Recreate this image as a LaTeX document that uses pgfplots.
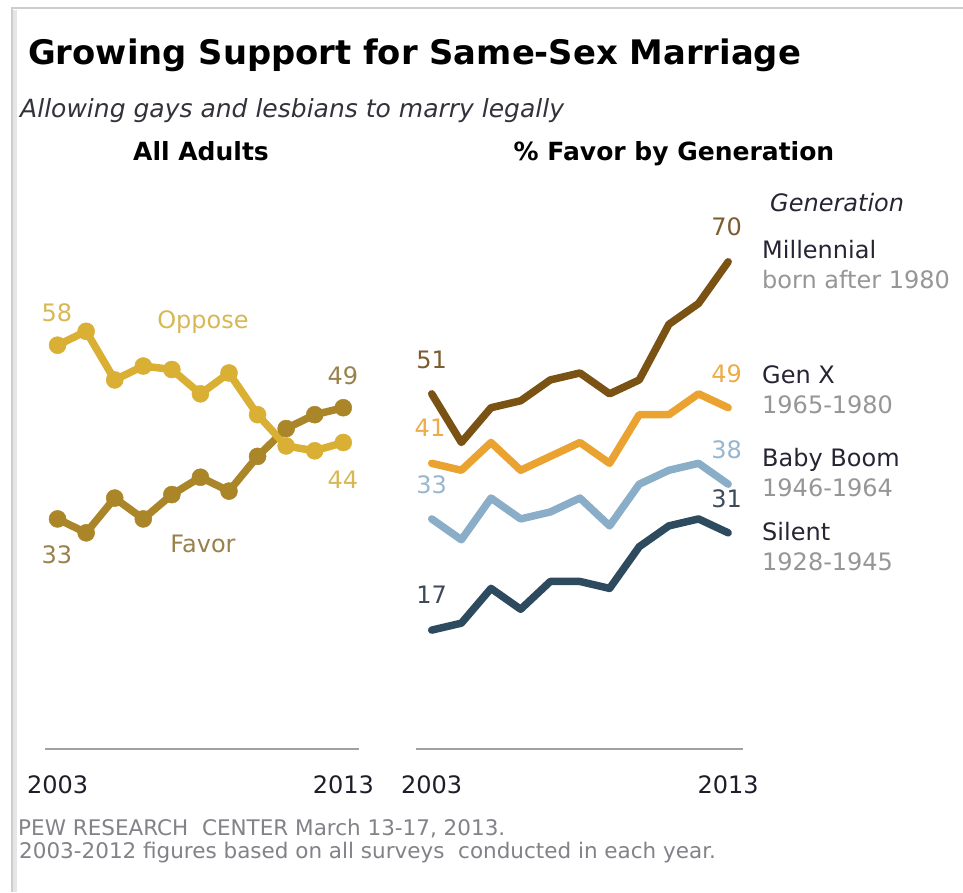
\documentclass[border=0pt]{standalone}
\usepackage{pgfplots}
\pgfplotsset{compat=1.18}
\usepackage{fontspec}
\setmainfont{DejaVu Sans}
\definecolor{opp}{RGB}{217,176,52}
\definecolor{opptext}{RGB}{216,184,84}
\definecolor{fav}{RGB}{170,134,40}
\definecolor{favtext}{RGB}{152,130,74}
\definecolor{mil}{RGB}{122,82,20}
\definecolor{miltext}{RGB}{125,92,48}
\definecolor{genx}{RGB}{234,162,48}
\definecolor{genxtext}{RGB}{236,172,74}
\definecolor{boom}{RGB}{138,174,200}
\definecolor{boomtext}{RGB}{152,182,206}
\definecolor{sil}{RGB}{46,74,94}
\definecolor{siltext}{RGB}{60,74,90}
\definecolor{legname}{RGB}{40,36,52}
\definecolor{legsub}{RGB}{150,150,152}
\definecolor{tickc}{RGB}{30,30,42}
\definecolor{foot}{RGB}{130,130,136}
\definecolor{basec}{RGB}{160,160,160}
\definecolor{frame}{RGB}{205,205,205}
\begin{document}
\begin{tikzpicture}[x=1pt,y=1pt]
\path[use as bounding box, fill=white] (0,0) rectangle (963,892);
% frame
\draw[frame!50, line width=5pt] (14,0) -- (14,882);
\draw[frame, line width=2pt] (12,0) -- (12,884) -- (963,884);
% titles
\node[anchor=base west, inner sep=0] at (28,827) {\fontsize{33.8}{40}\selectfont\bfseries Growing Support for Same-Sex Marriage};
\node[anchor=base west, inner sep=0, text={rgb,255:red,50;green,50;blue,60}] at (20,774) {\fontsize{25}{30}\selectfont\itshape Allowing gays and lesbians to marry legally};
\node[anchor=base, inner sep=0] at (201,731) {\fontsize{25}{30}\selectfont\bfseries All Adults};
\node[anchor=base, inner sep=0] at (674,731) {\fontsize{25}{30}\selectfont\bfseries \% Favor by Generation};
% left labels
\begin{scope}[every node/.style={inner sep=0, font=\fontsize{24}{29}\selectfont}]
\node[text=opptext] at (57,579) {58};
\node[text=opptext, anchor=base] at (203,563) {Oppose};
\node[text=favtext] at (343,516) {49};
\node[text=opptext] at (343,412) {44};
\node[text=favtext] at (57,337) {33};
\node[text=favtext, anchor=base] at (203,339) {Favor};
% right labels
\node[text=miltext] at (431.7,532) {51};
\node[text=genxtext] at (430,464) {41};
\node[text=boomtext] at (431.7,407) {33};
\node[text=siltext] at (431.7,297) {17};
\node[text=miltext] at (726.7,665) {70};
\node[text=genxtext] at (726.7,518.7) {49};
\node[text=boomtext] at (726.7,442) {38};
\node[text=siltext] at (726.7,393.7) {31};
% legend
\node[anchor=base west, text=legname] at (770,680.5) {\itshape Generation};
\node[anchor=base west, text=legname] at (762,633.5) {Millennial};
\node[anchor=base west, text=legsub] at (762,603.5) {born after 1980};
\node[anchor=base west, text=legname] at (762,508.5) {Gen X};
\node[anchor=base west, text=legsub] at (762,478.5) {1965-1980};
\node[anchor=base west, text=legname] at (762,425.5) {Baby Boom};
\node[anchor=base west, text=legsub] at (762,395.5) {1946-1964};
\node[anchor=base west, text=legname] at (762,351.5) {Silent};
\node[anchor=base west, text=legsub] at (762,321.5) {1928-1945};
\end{scope}
% footnote
\node[anchor=base west, inner sep=0, text=foot] at (18,57) {\fontsize{21.5}{25}\selectfont PEW RESEARCH\ \ CENTER March 13-17, 2013.};
\node[anchor=base west, inner sep=0, text=foot] at (19,34) {\fontsize{21.5}{25}\selectfont 2003-2012 figures based on all surveys\ \ conducted in each year.};
\pgfplotsset{
  panel/.style={
    scale only axis, clip=false, enlargelimits=false,
    anchor=south west,
    ymin=-0.15, ymax=80, height=557pt,
    axis x line=bottom, axis y line=none, ytick=\empty,
    x axis line style={-, draw=basec, line width=2pt},
    xtick={2003,2013}, xticklabels={2003,2013},
    major tick length=0pt,
    xticklabel style={font=\fontsize{24}{29}\selectfont, text=tickc, anchor=center, yshift=-35.7pt, inner sep=0pt},
  },
  ser/.style={line width=7.5pt, line join=round, line cap=round},
}
\begin{axis}[panel, at={(45pt,142.7pt)}, width=314pt, xmin=2002.56, xmax=2013.55]
\addplot[ser, color=fav, mark=*, mark size=8.5pt, mark options={solid, fill=fav, draw=fav, line width=0.5pt}] coordinates {
(2003,33) (2004,31) (2005,36) (2006,33) (2007,36.5) (2008,39) (2009,37) (2010,42) (2011,46) (2012,48) (2013,49)};
\addplot[ser, color=opp, mark=*, mark size=8.5pt, mark options={solid, fill=opp, draw=opp, line width=0.5pt}] coordinates {
(2003,58) (2004,60) (2005,53) (2006,55) (2007,54.5) (2008,51) (2009,54) (2010,48) (2011,43.5) (2012,42.8) (2013,44)};
\end{axis}
\begin{axis}[panel, at={(416pt,142.7pt)}, width=326.7pt, xmin=2002.47, xmax=2013.49]
\addplot[ser, color=sil, mark=none] coordinates {
(2003,17) (2004,18) (2005,23) (2006,20) (2007,24) (2008,24) (2009,23) (2010,29) (2011,32) (2012,33) (2013,31)};
\addplot[ser, color=boom, mark=none] coordinates {
(2003,33) (2004,30) (2005,36) (2006,33) (2007,34) (2008,36) (2009,32) (2010,38) (2011,40) (2012,41) (2013,38)};
\addplot[ser, color=genx, mark=none] coordinates {
(2003,41) (2004,40) (2005,44) (2006,40) (2007,42) (2008,44) (2009,41) (2010,48) (2011,48) (2012,51) (2013,49)};
\addplot[ser, color=mil, mark=none] coordinates {
(2003,51) (2004,44) (2005,49) (2006,50) (2007,53) (2008,54) (2009,51) (2010,53) (2011,61) (2012,64) (2013,70)};
\end{axis}
\end{tikzpicture}
\end{document}
